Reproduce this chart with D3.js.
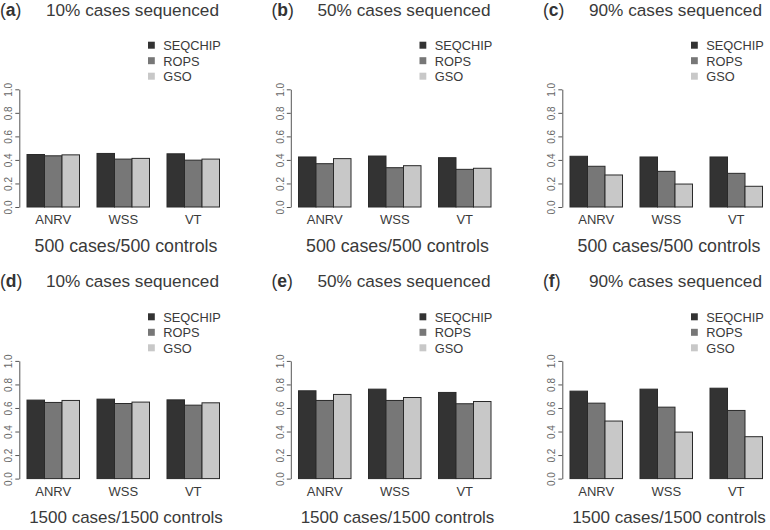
<!DOCTYPE html>
<html>
<head>
<meta charset="utf-8">
<script src="https://cdn.jsdelivr.net/npm/d3@7"></script>
<style>
  html, body { margin: 0; padding: 0; background: #fff; }
  svg { display: block; }
  text { font-family: "Liberation Sans", Arial, Helvetica, sans-serif; }
</style>
</head>
<body>
<svg id="chart" width="770" height="530"></svg>
<script>
// ---- data ----
const methods = ["ANRV", "WSS", "VT"];
const series = ["SEQCHIP", "ROPS", "GSO"];
const seriesColors = ["#333333", "#777777", "#c8c8c8"];
const panelLetters = ["a", "b", "c", "d", "e", "f"];
const panelTitles = ["10% cases sequenced", "50% cases sequenced", "90% cases sequenced",
                     "10% cases sequenced", "50% cases sequenced", "90% cases sequenced"];
const panelSubtitles = ["500 cases/500 controls", "500 cases/500 controls", "500 cases/500 controls",
                        "1500 cases/1500 controls", "1500 cases/1500 controls", "1500 cases/1500 controls"];
const yTicks = [0, 0.2, 0.4, 0.6, 0.8, 1.0];

// values[panel][method] = [SEQCHIP, ROPS, GSO]
const panelA = [[0.446, 0.435, 0.443], [0.455, 0.407, 0.413], [0.452, 0.398, 0.407]];
const panelB = [[0.425, 0.368, 0.411], [0.433, 0.334, 0.351], [0.419, 0.320, 0.329]];
const panelC = [[0.431, 0.346, 0.272], [0.425, 0.303, 0.195], [0.425, 0.286, 0.176]];
const panelD = [[0.667, 0.647, 0.664], [0.675, 0.638, 0.650], [0.669, 0.624, 0.644]];
const panelE = [[0.746, 0.664, 0.715], [0.760, 0.664, 0.689], [0.732, 0.636, 0.655]];
const panelF = [[0.743, 0.641, 0.489], [0.760, 0.607, 0.395], [0.768, 0.579, 0.356]];
const panels = [panelA, panelB, panelC, panelD, panelE, panelF];

// ---- drawing ----
const svg = d3.select("#chart");
const colStep = 271.5, rowStep = 271.6;
const unitPx = 17.5;

panels.forEach((vals, p) => {
  const c = p % 3, r = Math.floor(p / 3);
  const ox = 9.5 + c * colStep;   // x position of bar-unit 0
  const oy = r * rowStep;
  const g = svg.append("g").attr("transform", `translate(0,${oy})`);

  const x = d3.scaleLinear().domain([0, 12]).range([ox, ox + 12 * unitPx]);
  const y = d3.scaleLinear().domain([0, 1]).range([207, 89.3]);

  // bars
  vals.forEach((grp, gi) => {
    grp.forEach((v, si) => {
      const u = 1 + gi * 4 + si;
      g.append("rect")
        .attr("x", x(u))
        .attr("y", y(v))
        .attr("width", x(u + 1) - x(u))
        .attr("height", y(0) - y(v))
        .attr("fill", seriesColors[si])
        .attr("stroke", "#2a2a2a")
        .attr("stroke-width", 1);
    });
    g.append("text")
      .attr("x", x(1 + gi * 4 + 1.5))
      .attr("y", 224)
      .attr("text-anchor", "middle")
      .attr("font-size", 13)
      .attr("fill", "#3a3a3a")
      .text(methods[gi]);
  });

  // y axis
  const axisX = x(0.56);
  const ax = g.append("g")
    .attr("transform", `translate(${axisX},0)`)
    .call(d3.axisLeft(y).tickValues(yTicks).tickSize(4).tickSizeOuter(0).tickFormat(d3.format(".1f")));
  ax.select(".domain").attr("stroke", "#555");
  ax.selectAll(".tick line").attr("stroke", "#555");
  ax.selectAll(".tick text")
    .attr("fill", "#666")
    .attr("font-size", 10)
    .attr("font-family", "Liberation Sans, Arial, sans-serif")
    .attr("x", 0).attr("dy", 0)
    .attr("text-anchor", "middle")
    .attr("transform", "translate(-7,0) rotate(-90)");

  // legend
  series.forEach((s, si) => {
    const by = 50 + si * 15.5;
    g.append("rect")
      .attr("x", ox + 138.5).attr("y", by - 8.3)
      .attr("width", 6.8).attr("height", 7)
      .attr("fill", seriesColors[si]);
    g.append("text")
      .attr("x", ox + 153.8).attr("y", by)
      .attr("font-size", 12.8)
      .attr("fill", "#3a3a3a")
      .text(s);
  });

  // title
  const t = g.append("text")
    .attr("x", ox - 9.5).attr("y", 15.7)
    .attr("font-size", 17.5)
    .attr("fill", "#333");
  t.append("tspan").text("(");
  t.append("tspan").attr("font-weight", "bold").text(panelLetters[p]);
  t.append("tspan").text(")");
  g.append("text")
    .attr("x", ox + 36.5).attr("y", 15.7)
    .attr("font-size", 17.2)
    .attr("fill", "#3a3a3a")
    .text(panelTitles[p]);

  // subtitle
  g.append("text")
    .attr("x", ox + 116.5).attr("y", 251.7)
    .attr("text-anchor", "middle")
    .attr("font-size", r === 0 ? 17.8 : 17)
    .attr("fill", "#3a3a3a")
    .text(panelSubtitles[p]);
});
</script>
</body>
</html>
